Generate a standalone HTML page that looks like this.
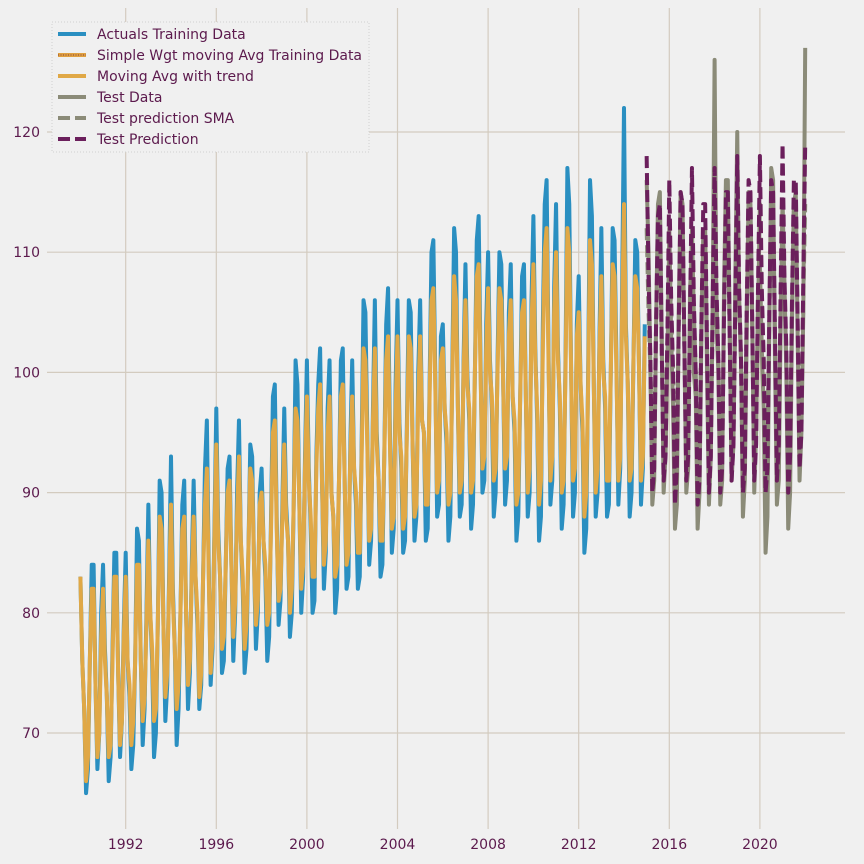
<!DOCTYPE html>
<html><head><meta charset="utf-8"><style>
html,body{margin:0;padding:0;background:#f0f0f0;}
svg{display:block;font-family:"DejaVu Sans","Liberation Sans",sans-serif;}
</style></head><body>
<svg id="chart" width="864" height="864">
<rect width="864" height="864" fill="#f0f0f0"/>
<g id="grid"></g><g id="series"></g><g id="axes"></g>
<g id="legend">
<rect x="52" y="22" width="317" height="130" fill="#f0f0f0" stroke="#cfcfcf" stroke-dasharray="1 2"/>
<g><line x1="58" y1="34" x2="86" y2="34" stroke="#2a8fc1" stroke-width="4"/><text x="97" y="39" font-size="14" fill="#5c1a4d">Actuals Training Data</text></g>
<g><line x1="58" y1="55" x2="86" y2="55" stroke="#e0a040" stroke-width="4"/><line x1="58" y1="55" x2="86" y2="55" stroke="#b07040" stroke-width="2" stroke-dasharray="1 1.5"/><text x="97" y="60" font-size="14" fill="#5c1a4d">Simple Wgt moving Avg Training Data</text></g>
<g><line x1="58" y1="76" x2="86" y2="76" stroke="#e0a846" stroke-width="4"/><text x="97" y="81" font-size="14" fill="#5c1a4d">Moving Avg with trend</text></g>
<g><line x1="58" y1="97" x2="86" y2="97" stroke="#8b8b78" stroke-width="4"/><text x="97" y="102" font-size="14" fill="#5c1a4d">Test Data</text></g>
<g><line x1="58" y1="118" x2="86" y2="118" stroke="#8b8b78" stroke-width="4" stroke-dasharray="12 5"/><text x="97" y="123" font-size="14" fill="#5c1a4d">Test prediction SMA</text></g>
<g><line x1="58" y1="139" x2="86" y2="139" stroke="#6b1f5c" stroke-width="4" stroke-dasharray="12 5"/><text x="97" y="144" font-size="14" fill="#5c1a4d">Test Prediction</text></g>
</g>
</svg>
<script>
const xTicks=[1992,1996,2000,2004,2008,2012,2016,2020];
const yTicks=[70,80,90,100,110,120];
const actualTrain=[83,76,72,65,67,76,84,84,74,67,70,80,84,77,73,66,68,77,85,85,75,68,71,79,85,76,73,67,69,76,87,86,76,69,72,80,89,80,76,68,70,79,91,90,79,71,74,83,93,82,77,69,72,80,89,91,80,72,75,84,91,83,79,72,74,83,92,96,84,74,77,87,97,87,83,75,76,84,92,93,84,76,80,90,96,86,82,75,77,85,94,93,84,77,80,90,92,86,83,76,78,88,98,99,88,79,81,89,97,89,86,78,80,89,101,99,89,80,83,93,101,92,87,80,81,93,99,102,91,82,85,97,101,90,88,80,82,91,101,102,91,82,83,94,101,92,89,82,83,94,106,105,95,84,86,97,106,95,91,83,84,93,104,107,95,85,87,99,106,96,92,85,86,96,106,105,94,86,88,100,106,96,95,86,87,99,110,111,100,88,89,103,104,97,94,86,88,100,112,110,97,88,89,101,109,100,96,87,89,100,111,113,101,90,91,104,110,101,97,88,90,101,110,109,99,89,91,105,109,98,95,86,88,98,108,109,98,88,90,106,113,102,96,86,88,104,114,116,102,89,91,107,114,102,97,87,89,101,117,114,100,88,90,104,108,99,95,85,87,100,116,113,99,88,90,103,112,101,97,88,89,100,112,111,101,89,92,107,122,104,99,88,90,101,111,110,100,89,92,104];
const movingAvgTrend=[83,76,72,66,68,76,82,82,74,68,70,78,82,76,73,68,69,76,83,83,75,69,71,78,83,76,74,69,71,76,84,84,76,71,73,79,86,80,77,71,72,79,88,87,79,73,75,82,89,81,77,72,74,80,87,88,80,74,76,83,88,83,80,73,75,83,89,92,83,75,78,86,94,86,83,77,78,84,90,91,84,78,81,88,93,86,83,77,79,85,92,91,84,79,81,89,90,86,84,79,80,87,95,96,87,81,82,88,94,88,86,80,82,89,97,96,89,82,84,92,98,91,88,83,83,92,97,99,91,84,86,95,98,90,88,83,84,91,98,99,91,84,85,93,98,92,90,85,85,93,102,101,94,86,87,96,102,94,91,86,86,93,101,103,94,87,88,97,103,95,93,87,88,95,103,102,94,88,89,98,103,96,95,89,89,98,106,107,99,90,91,101,102,97,95,89,90,99,108,106,97,90,91,100,106,99,97,90,91,100,108,109,100,92,93,102,107,100,98,91,92,100,107,106,99,92,93,103,106,98,96,89,90,98,105,106,98,90,92,104,109,101,97,89,91,102,110,112,101,91,93,105,110,101,98,90,91,100,112,110,100,91,92,103,105,99,96,88,90,99,111,109,99,90,92,102,108,100,98,91,91,100,109,108,100,91,93,105,114,103,99,91,92,101,108,107,100,91,93,103];
const simpleWgtTrain=[83,76,72,66,68,76,82,82,74,68,70,78,82,76,73,68,69,76,83,83,75,69,71,78,83,76,74,69,71,76,84,84,76,71,73,79,86,80,77,71,72,79,88,87,79,73,75,82,89,81,77,72,74,80,87,88,80,74,76,83,88,83,80,73,75,83,89,92,83,75,78,86,94,86,83,77,78,84,90,91,84,78,81,88,93,86,83,77,79,85,92,91,84,79,81,89,90,86,84,79,80,87,95,96,87,81,82,88,94,88,86,80,82,89,97,96,89,82,84,92,98,91,88,83,83,92,97,99,91,84,86,95,98,90,88,83,84,91,98,99,91,84,85,93,98,92,90,85,85,93,102,101,94,86,87,96,102,94,91,86,86,93,101,103,94,87,88,97,103,95,93,87,88,95,103,102,94,88,89,98,103,96,95,89,89,98,106,107,99,90,91,101,102,97,95,89,90,99,108,106,97,90,91,100,106,99,97,90,91,100,108,109,100,92,93,102,107,100,98,91,92,100,107,106,99,92,93,103,106,98,96,89,90,98,105,106,98,90,92,104,109,101,97,89,91,102,110,112,101,91,93,105,110,101,98,90,91,100,112,110,100,91,92,103,105,99,96,88,90,99,111,109,99,90,92,102,108,100,98,91,91,100,109,108,100,91,93,105,114,103,99,91,92,101,108,107,100,91,93,103];
const testData=[116,110,100,89,91,104,114,115,103,90,93,101,112,103,97,87,89,105,115,114,102,90,92,107,110,100,98,87,90,103,111,111,100,89,93,106,126,104,100,89,91,107,116,116,104,91,94,108,120,106,101,88,91,103,115,114,104,90,95,106,109,102,97,85,88,104,117,116,101,89,91,104,114,107,100,87,90,104,114,115,103,91,95,105,127];
const testSMA=[112,105,100,92,94,104,111,111,102,93,95,103,111,105,100,92,94,104,112,111,102,93,95,104,112,105,100,92,93,104,111,112,102,93,95,104,113,106,101,92,94,105,112,112,103,93,95,105,113,106,101,92,94,105,113,113,103,93,96,105,114,106,101,91,94,105,113,113,103,93,95,105,114,107,101,92,94,105,114,114,104,94,96,106,114];
const testPred=[118,108,101,90,92,104,113,114,102,91,93,103,116,106,100,89,92,104,115,114,102,91,93,105,117,106,100,89,91,104,114,114,102,90,93,106,117,107,101,90,92,105,115,115,103,91,94,106,118,107,101,90,92,105,116,115,103,91,94,107,118,107,101,90,92,105,116,115,103,91,94,107,119,108,102,90,93,106,116,116,104,92,95,108,119];

const NS='http://www.w3.org/2000/svg';
const X0=47,X1=845,Y0=8,Y1=829;
function xYear(y){return 80.4+(y-1990)*22.65;}
function xMonth(i){return xYear(1990+i/12);}
function yS(v){return 733-(v-70)*12.02;}
function mk(tag,attrs,parent){const e=document.createElementNS(NS,tag);for(const k in attrs)e.setAttribute(k,attrs[k]);parent.appendChild(e);return e;}
const grid=document.getElementById('grid'),axes=document.getElementById('axes'),ser=document.getElementById('series');
xTicks.forEach(t=>{
  const l=mk('line',{x1:xYear(t),x2:xYear(t),y1:Y0,y2:Y1,stroke:'#d3cbbf','stroke-width':1.2},grid);
  
  
  const tx=mk('text',{x:xYear(t),y:849,'text-anchor':'middle','font-size':14,fill:'#5c1a4d'},axes);
  tx.textContent=t;
  
  
});
yTicks.forEach(t=>{
  const l=mk('line',{x1:X0,x2:X1,y1:yS(t),y2:yS(t),stroke:'#d3cbbf','stroke-width':1.2},grid);
  
  
  const tx=mk('text',{x:40,y:yS(t)+5,'text-anchor':'end','font-size':14,fill:'#5c1a4d'},axes);
  tx.textContent=t;
  
  
});
function path(arr,off){return arr.map((v,i)=>(i?'L':'M')+xMonth(i+off).toFixed(2)+' '+yS(v).toFixed(2)).join(' ');}
function draw(arr,off,style,name){
  const p=mk('path',Object.assign({d:path(arr,off),fill:'none','stroke-linejoin':'round'},style),ser);
  
  
}
draw(actualTrain,0,{stroke:'#2a8fc1','stroke-width':4},'actuals-training-line');
draw(simpleWgtTrain,0,{stroke:'#b07040','stroke-width':2,'stroke-dasharray':'1 1.5'},'simple-wgt-moving-avg-line');
draw(movingAvgTrend,0,{stroke:'#e0a846','stroke-width':4},'moving-avg-trend-line');
draw(testData,300,{stroke:'#8b8b78','stroke-width':4},'test-data-line');
draw(testSMA,300,{stroke:'#8b8b78','stroke-width':4,'stroke-dasharray':'12 5'},'test-prediction-sma-line');
draw(testPred,300,{stroke:'#6b1f5c','stroke-width':4,'stroke-dasharray':'12 5'},'test-prediction-line');
</script>
</body></html>
